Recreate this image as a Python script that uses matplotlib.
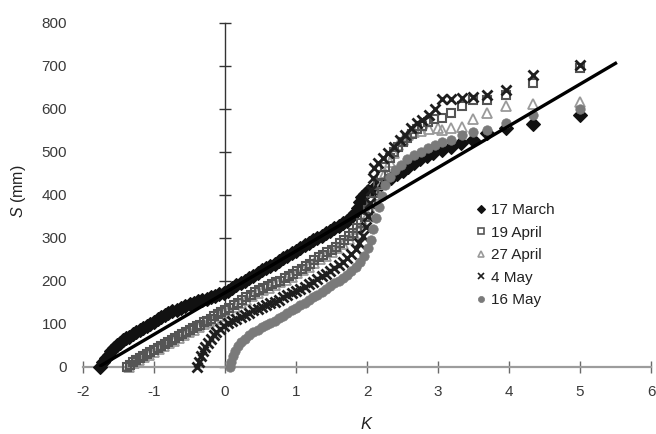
import matplotlib
matplotlib.use("Agg")
import matplotlib.pyplot as plt
from matplotlib.lines import Line2D

plt.rcParams["font.family"] = ["Liberation Sans", "DejaVu Sans"]
plt.rcParams["mathtext.fontset"] = "custom"
plt.rcParams["mathtext.rm"] = "Liberation Sans"
plt.rcParams["mathtext.it"] = "Liberation Sans:italic"
plt.rcParams["axes.unicode_minus"] = False

# ---- data: frequency factor K vs snow depth S (mm) for each survey date ----
series_names = ["17 March", "19 April", "27 April", "4 May", "16 May"]

k_17mar = [-1.76, -1.72, -1.68, -1.64, -1.60, -1.56, -1.52, -1.48, -1.44, -1.40,
           -1.35, -1.30, -1.25, -1.20, -1.15, -1.10, -1.05, -1.00, -0.95, -0.90,
           -0.85, -0.80, -0.74, -0.68, -0.62, -0.56, -0.50, -0.44, -0.38, -0.32,
           -0.26, -0.20, -0.14, -0.08, -0.02, 0.04, 0.10, 0.16, 0.22, 0.28,
           0.34, 0.40, 0.46, 0.52, 0.58, 0.64, 0.70, 0.76, 0.82, 0.88,
           0.94, 1.00, 1.06, 1.12, 1.18, 1.24, 1.30, 1.36, 1.42, 1.48,
           1.54, 1.60, 1.66, 1.72, 1.78, 1.83, 1.87, 1.90, 1.93, 1.97,
           2.02, 2.08, 2.14, 2.20, 2.27, 2.34, 2.42, 2.50, 2.58, 2.66,
           2.75, 2.84, 2.93, 3.06, 3.19, 3.33, 3.49, 3.69, 3.96, 4.34, 5.00]
s_17mar = [0, 10, 20, 28, 36, 44, 50, 56, 62, 66,
           70, 75, 81, 86, 90, 95, 100, 105, 110, 116,
           121, 126, 130, 133, 137, 141, 145, 149, 152, 155,
           158, 161, 164, 168, 172, 177, 183, 189, 195, 200,
           206, 212, 218, 224, 229, 235, 240, 246, 252, 258,
           264, 270, 276, 282, 288, 294, 299, 305, 310, 316,
           322, 328, 334, 340, 348, 358, 370, 382, 394, 402,
           408, 414, 420, 426, 433, 440, 448, 456, 465, 473,
           482, 490, 497, 504, 512, 520, 527, 543, 555, 564, 585]

k_19apr = [-1.38, -1.34, -1.30, -1.25, -1.20, -1.15, -1.10, -1.05, -1.00, -0.95,
           -0.90, -0.85, -0.80, -0.75, -0.70, -0.65, -0.60, -0.55, -0.50, -0.45,
           -0.40, -0.35, -0.30, -0.25, -0.20, -0.15, -0.10, -0.05, 0.00, 0.06,
           0.12, 0.18, 0.24, 0.30, 0.36, 0.42, 0.48, 0.54, 0.60, 0.66,
           0.72, 0.78, 0.84, 0.90, 0.96, 1.02, 1.08, 1.14, 1.20, 1.26,
           1.32, 1.38, 1.44, 1.50, 1.56, 1.62, 1.68, 1.74, 1.80, 1.86,
           1.92, 1.97, 2.02, 2.06, 2.10, 2.15, 2.20, 2.26, 2.32, 2.38,
           2.44, 2.50, 2.57, 2.64, 2.71, 2.78, 2.86, 2.95, 3.06, 3.19,
           3.34, 3.49, 3.69, 3.96, 4.34, 5.00]
s_19apr = [0, 5, 10, 15, 20, 25, 30, 35, 39, 44,
           48, 53, 57, 62, 66, 71, 75, 80, 85, 89,
           94, 98, 103, 107, 112, 117, 122, 127, 131, 137,
           143, 149, 155, 161, 167, 173, 178, 183, 188, 192,
           196, 200, 206, 211, 216, 222, 228, 234, 240, 247,
           254, 260, 266, 272, 279, 287, 295, 303, 312, 322,
           334, 348, 365, 385, 405, 425, 445, 465, 485, 500,
           512, 522, 532, 542, 552, 560, 568, 575, 578, 590,
           606, 620, 620, 632, 660, 694]

k_27apr = [-1.35, -1.28, -1.21, -1.14, -1.07, -1.00, -0.93, -0.86, -0.79, -0.72,
           -0.65, -0.58, -0.51, -0.44, -0.37, -0.30, -0.23, -0.16, -0.09, -0.02,
           0.06, 0.14, 0.22, 0.30, 0.38, 0.46, 0.54, 0.62, 0.70, 0.78,
           0.86, 0.94, 1.02, 1.10, 1.18, 1.26, 1.34, 1.42, 1.50, 1.58,
           1.66, 1.74, 1.82, 1.88, 1.94, 2.00, 2.05, 2.10, 2.15, 2.20,
           2.26, 2.32, 2.38, 2.44, 2.50, 2.58, 2.66, 2.76, 2.88, 3.00,
           3.06, 3.19, 3.34, 3.49, 3.69, 3.96, 4.34, 5.00]
s_27apr = [0, 8, 15, 22, 28, 35, 41, 48, 54, 60,
           67, 73, 80, 86, 92, 99, 105, 111, 118, 125,
           132, 140, 148, 156, 164, 171, 178, 184, 190, 196,
           202, 209, 217, 225, 233, 242, 250, 258, 266, 276,
           286, 296, 308, 320, 335, 350, 362, 380, 400, 425,
           450, 475, 498, 515, 528, 540, 545, 548, 552, 555,
           550, 555, 558, 575, 590, 606, 612, 616]

k_4may = [-0.40, -0.37, -0.34, -0.31, -0.28, -0.24, -0.20, -0.16, -0.12, -0.07,
          -0.02, 0.04, 0.10, 0.16, 0.22, 0.28, 0.34, 0.40, 0.46, 0.52,
          0.58, 0.64, 0.70, 0.76, 0.82, 0.88, 0.94, 1.00, 1.06, 1.12,
          1.18, 1.24, 1.30, 1.36, 1.42, 1.48, 1.54, 1.60, 1.66, 1.72,
          1.78, 1.84, 1.89, 1.94, 1.98, 2.01, 2.04, 2.06, 2.08, 2.10,
          2.16, 2.23, 2.30, 2.38, 2.46, 2.54, 2.62, 2.70, 2.78, 2.88,
          2.96, 3.06, 3.19, 3.34, 3.49, 3.69, 3.96, 4.34, 5.00]
s_4may = [0, 12, 24, 36, 46, 56, 65, 73, 80, 88,
          95, 101, 106, 111, 116, 121, 126, 131, 135, 139,
          143, 147, 151, 156, 161, 166, 171, 176, 181, 186,
          192, 198, 204, 210, 216, 222, 229, 236, 244, 252,
          262, 274, 288, 305, 325, 350, 380, 410, 440, 462,
          474, 486, 498, 512, 527, 540, 555, 566, 574, 585,
          600, 622, 622, 624, 628, 632, 643, 678, 701]

k_16may = [0.07, 0.09, 0.11, 0.14, 0.18, 0.23, 0.28, 0.34, 0.40, 0.46,
           0.52, 0.58, 0.64, 0.70, 0.76, 0.82, 0.88, 0.94, 1.00, 1.06,
           1.12, 1.18, 1.24, 1.30, 1.36, 1.42, 1.48, 1.54, 1.60, 1.66,
           1.72, 1.78, 1.84, 1.90, 1.96, 2.01, 2.05, 2.09, 2.13, 2.17,
           2.21, 2.26, 2.32, 2.40, 2.48, 2.57, 2.66, 2.76, 2.86, 2.96,
           3.06, 3.19, 3.34, 3.49, 3.69, 3.96, 4.34, 5.00]
s_16may = [0, 12, 24, 36, 47, 57, 65, 73, 80, 86,
           92, 97, 102, 107, 113, 119, 125, 131, 137, 143,
           149, 155, 161, 167, 174, 181, 188, 194, 200, 207,
           214, 222, 232, 244, 258, 275, 295, 320, 345, 372,
           398, 422, 442, 458, 470, 482, 492, 500, 508, 516,
           523, 527, 539, 546, 550, 566, 585, 600]

# regression line S = a + b*K
fit_intercept = 172.0
fit_slope = 97.0
fit_k_range = [-1.77, 5.52]

x_ticks = [-2, -1, 0, 1, 2, 3, 4, 5, 6]
y_ticks = [0, 100, 200, 300, 400, 500, 600, 700, 800]

# ---- styling per series ----
styles = {
    "17 March": dict(marker="D", ms=6.8, mfc="#111111", mec="#111111", mew=0.8),
    "19 April": dict(marker="s", ms=6.0, mfc="none", mec="#555555", mew=1.5),
    "27 April": dict(marker="^", ms=6.6, mfc="none", mec="#9a9a9a", mew=1.3),
    "4 May": dict(marker="x", ms=6.6, mfc="none", mec="#1e1e1e", mew=2.0),
    "16 May": dict(marker="o", ms=6.8, mfc="#7a7a7a", mec="#7a7a7a", mew=0.5),
}
layer = {"17 March": 3.0, "19 April": 3.2, "27 April": 3.1, "4 May": 3.3, "16 May": 3.4}
data = {
    "17 March": (k_17mar, s_17mar),
    "19 April": (k_19apr, s_19apr),
    "27 April": (k_27apr, s_27apr),
    "4 May": (k_4may, s_4may),
    "16 May": (k_16may, s_16may),
}

W, H = 656, 434
fig = plt.figure(figsize=(W / 100, H / 100), dpi=100)
left, right, top, bottom = 83, 651, 22.7, 366.7
ax = fig.add_axes([left / W, 1 - bottom / H, (right - left) / W, (bottom - top) / H])
ax.set_xlim(x_ticks[0], x_ticks[-1])
ax.set_ylim(y_ticks[0], y_ticks[-1])

for name in series_names:
    ks, ss = data[name]
    ax.plot(ks, ss, linestyle="none", clip_on=False, zorder=layer[name], **styles[name])

fit_s = [fit_intercept + fit_slope * k for k in fit_k_range]
ax.plot(fit_k_range, fit_s, color="black", lw=2.4, solid_capstyle="butt", zorder=5)

# axes: horizontal axis along S = 0, vertical axis through K = 0
for side in ("top", "right", "left"):
    ax.spines[side].set_visible(False)
ax.spines["bottom"].set_color("#9c9c9c")
ax.spines["bottom"].set_linewidth(1.6)
ax.set_xticks(x_ticks)
ax.set_yticks(y_ticks)
ax.tick_params(axis="x", direction="inout", length=9, width=1.0, color="#6a6a6a",
               pad=9, labelsize=11, labelcolor="#3a3a3a")
ax.tick_params(axis="y", length=0, pad=11.5, labelsize=11, labelcolor="#3a3a3a")

kaxis = ax.secondary_yaxis((0 - x_ticks[0]) / (x_ticks[-1] - x_ticks[0]))
kaxis.set_yticks(y_ticks)
kaxis.tick_params(direction="inout", length=9, width=1.0, color="#333333",
                  labelleft=False, labelright=False)
kaxis.spines["left"].set_color("#333333")
kaxis.spines["left"].set_linewidth(1.0)

fig.text(18 / W, 1 - 191 / H, r"$S$ (mm)", rotation=90, ha="center", va="center",
         fontsize=11.5, color="#222222")
fig.text(367 / W, 1 - 424 / H, r"$K$", ha="center", va="center",
         fontsize=12, color="#222222")

handles = []
for name in series_names:
    st = dict(styles[name])
    st["ms"] = st["ms"] * 0.65
    st["mew"] = min(st["mew"], 1.2)
    handles.append(Line2D([], [], linestyle="none", **st))
ax.legend(handles, series_names, loc="upper left", bbox_to_anchor=(476 / W, 1 - 203 / H),
          bbox_transform=fig.transFigure, frameon=False, fontsize=11,
          handlelength=0.6, handletextpad=0.35, labelspacing=0.56, borderpad=0,
          borderaxespad=0, labelcolor="#222222")

fig.savefig("out.png", dpi=100)
